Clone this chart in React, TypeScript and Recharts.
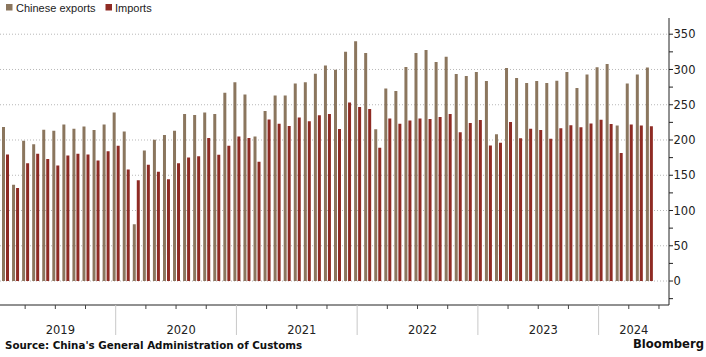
import React from "react";
import { BarChart, Bar, XAxis, YAxis, CartesianGrid } from "recharts";

const years = [2019, 2020, 2021, 2022, 2023, 2024];
const monthNumbers = ["01", "02", "03", "04", "05", "06", "07", "08", "09", "10", "11", "12"];
// Jan 2019 .. Jun 2024 (Jun 2024 is an empty slot at the end of the axis)
const categories: string[] = years
  .flatMap((y) => monthNumbers.map((m) => `${y}-${m}`))
  .slice(0, 66);

const exportsValues: (number | null)[] = [
  218.5, 136.5, 199, 194, 214.7, 213, 222, 216, 219, 214, 222, 239,
  212, 80.6, 185, 200.5, 207, 213, 237, 235.5, 239, 237, 267, 282,
  264.5, 205, 241, 263, 263, 280, 282, 294, 305.7, 299.5, 325, 340,
  323.5, 215.4, 273, 269.4, 303.6, 323.5, 327.7, 310.7, 318.2, 293.6, 290.8, 296.4,
  283.6, 208.3, 302.1, 287.9, 280.8, 283.6, 280.8, 284.1, 296.4, 273.7, 292.7, 303.1,
  307.8, 220.4, 280, 292.9, 302.8, null,
];

const importsValues: (number | null)[] = [
  179.6, 132, 167, 180.5, 173, 164, 178, 180.5, 179.6, 171, 184, 192,
  158, 143, 165, 155, 144.5, 167, 175, 177, 203, 179, 192, 205,
  203, 169, 229, 223, 220, 232, 226.5, 235, 237, 215.6, 253, 246.7,
  244, 189, 230.6, 223, 227.7, 230.6, 229.6, 232.5, 236.7, 211.1, 224, 228.2,
  192.2, 196, 225.4, 202.6, 215.9, 214, 201.7, 216.8, 221, 218.2, 223.5, 228.7,
  222.7, 181.5, 221.8, 220.4, 219.4, null,
];

const yTicks = [-25, 0, 25, 50, 75, 100, 125, 150, 175, 200, 225, 250, 275, 300, 325, 350];
const gridValues = [0, 50, 100, 150, 200, 250, 300, 350];

const seriesNames = { exports: "Chinese exports", imports: "Imports" };
const colors = { exports: "#8b765e", imports: "#8f2b24" };
const sourceText = "Source: China's General Administration of Customs";
const brandText = "Bloomberg";

const data = categories.map((c, i) => ({
  month: c,
  exports: exportsValues[i],
  imports: importsValues[i],
}));

const tickFont = "'DejaVu Sans', Verdana, sans-serif";

function XTick(props: any) {
  const { x, y, payload } = props;
  const idx = categories.indexOf(payload.value);
  if (idx < 0) return null;
  const [yrStr, moStr] = payload.value.split("-");
  const mo = Number(moStr);
  const half = payload.offset || 664 / 66 / 2;
  const els: React.ReactNode[] = [];
  if (mo % 3 === 0) {
    if (mo === 12) {
      els.push(<line key="sep" x1={x} x2={x} y1={y} y2={y + 30} stroke="#c8c8c8" strokeWidth={1} />);
    } else {
      els.push(<line key="q" x1={x} x2={x} y1={y} y2={y + 4} stroke="#444" strokeWidth={1} />);
    }
  }
  const first = categories.findIndex((c) => c.startsWith(yrStr + "-"));
  let last = first;
  categories.forEach((c, i) => {
    if (c.startsWith(yrStr + "-")) last = i;
  });
  const mid = (first + last) / 2;
  if (idx === Math.floor(mid)) {
    const lx = x + (mid - idx) * 2 * half;
    els.push(
      <text key="yl" x={lx} y={y + 29} textAnchor="middle" fontFamily={tickFont} fontSize={11.5} fill="#222">
        {yrStr}
      </text>
    );
  }
  return <g>{els}</g>;
}

function YTick(props: any) {
  const { x, y, payload } = props;
  const v = payload.value;
  return (
    <g>
      <line x1={x} x2={x + 4} y1={y} y2={y} stroke="#222" strokeWidth={1} />
      {v >= 0 && v % 50 === 0 ? (
        <text x={x + 4.5} y={y} dy="0.36em" textAnchor="start" fontFamily={tickFont} fontSize={11.5} fill="#222">
          {v}
        </text>
      ) : null}
    </g>
  );
}

export default function App() {
  return (
    <div style={{ position: "absolute", left: 0, top: 0, width: 706, height: 357, background: "#fff" }}>
      <BarChart
        width={706}
        height={357}
        data={data}
        margin={{ top: 18, right: 0, bottom: 22, left: 0 }}
        barGap={1}
      >
        <CartesianGrid
          vertical={false}
          horizontalValues={gridValues}
          stroke="#b8b8b8"
          strokeDasharray="1 2"
        />
        <XAxis
          dataKey="month"
          height={30}
          interval={0}
          tickSize={0}
          tickMargin={0}
          tickLine={false}
          axisLine={{ stroke: "#222" }}
          padding={{ left: 0, right: 5 }}
          tick={<XTick />}
        />
        <YAxis
          orientation="right"
          width={37}
          domain={[-34, 373]}
          allowDataOverflow
          ticks={yTicks}
          interval={0}
          tickSize={0}
          tickMargin={0}
          tickLine={false}
          axisLine={{ stroke: "#222" }}
          tick={<YTick />}
        />
        <Bar dataKey="exports" name={seriesNames.exports} fill={colors.exports} barSize={3} isAnimationActive={false} />
        <Bar dataKey="imports" name={seriesNames.imports} fill={colors.imports} barSize={3} isAnimationActive={false} />
      </BarChart>
      <svg
        width={706}
        height={357}
        style={{ position: "absolute", left: 0, top: 0, pointerEvents: "none" }}
      >
        <rect x={6} y={4} width={6.5} height={6.5} fill={colors.exports} />
        <text x={16} y={11.5} fontFamily="'Liberation Sans', Arial, sans-serif" fontSize={11} fill="#222">
          {seriesNames.exports}
        </text>
        <rect x={105.5} y={4} width={6.5} height={6.5} fill={colors.imports} />
        <text x={115} y={11.5} fontFamily="'Liberation Sans', Arial, sans-serif" fontSize={11} fill="#222">
          {seriesNames.imports}
        </text>
        <text x={5} y={349} fontFamily={tickFont} fontWeight="bold" fontSize={10.3} fill="#111">
          {sourceText}
        </text>
        <text x={704} y={347.5} textAnchor="end" fontFamily={tickFont} fontWeight="bold" fontSize={11.6} fill="#111">
          {brandText}
        </text>
      </svg>
    </div>
  );
}
